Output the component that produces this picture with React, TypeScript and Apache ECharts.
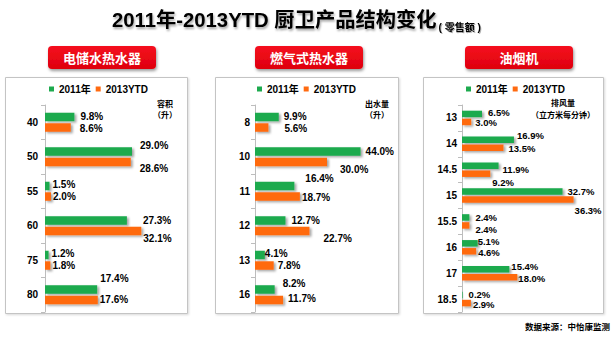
import React, { useEffect, useRef } from "react";
import * as echarts from "echarts";

// ---------- data ----------
const seriesNames = ["2011年", "2013YTD"];

const waterHeaterSizes = ["40", "50", "55", "60", "75", "80"];
const waterHeater2011 = [9.8, 29.0, 1.5, 27.3, 1.2, 17.4];
const waterHeater2013 = [8.6, 28.6, 2.0, 32.1, 1.8, 17.6];

const gasHeaterSizes = ["8", "10", "11", "12", "13", "16"];
const gasHeater2011 = [9.9, 44.0, 16.4, 12.7, 4.1, 8.2];
const gasHeater2013 = [5.6, 30.0, 18.7, 22.7, 7.8, 11.7];

const hoodSizes = ["13", "14", "14.5", "15", "15.5", "16", "17", "18.5"];
const hood2011 = [6.5, 16.9, 11.9, 32.7, 2.4, 5.1, 15.4, 0.2];
const hood2013 = [3.0, 13.5, 9.2, 36.3, 2.4, 4.6, 18.0, 2.9];

// ---------- label layout nudges (dx, dy), as in the original slide ----------
const waterShift2011 = [[3, 0], [5, -6], [0, -1], [13, 0], [0, -1], [0, -11]];
const waterShift2013 = [[6, 1], [6, 6], [-1, 0], [-1, 7], [-1, 0], [-1, -1]];
const gasShift2011 = [[2, 0], [2, 0], [8, -7], [3, 0], [-3, -1], [5, -6]];
const gasShift2013 = [[13, 1], [10, 7], [-1, 1], [11, 7], [1, 0], [2, -2]];
const hoodShift2011 = [[3, -1], [0, -4], [1, 4], [2, 0], [3, 0], [-3, -2], [-1, -3], [3, -1]];
const hoodShift2013 = [[1, 1], [2, 1], [-1, 9], [-2, 11], [3, 4], [-1, 1], [-2, 1], [-1, 1]];

const GREEN = "#1DAA4E";
const ORANGE = "#FF6A10";
const FONT = "'Liberation Sans', 'Noto Sans CJK SC', sans-serif";
const CJK = "'Noto Sans CJK SC', sans-serif";

type PanelCfg = {
  cats: string[];
  a: number[];
  b: number[];
  sa: number[][];
  sb: number[][];
  left: number;
  width: number;
  max: number;
  barWidth: number;
  barGap: string;
  labelMargin: number;
  valueFont: number;
};

const panels: PanelCfg[] = [
  { cats: waterHeaterSizes, a: waterHeater2011, b: waterHeater2013, sa: waterShift2011, sb: waterShift2013,
    left: 45, width: 135, max: 45, barWidth: 8.5, barGap: "24%", labelMargin: 7, valueFont: 10 },
  { cats: gasHeaterSizes, a: gasHeater2011, b: gasHeater2013, sa: gasShift2011, sb: gasShift2013,
    left: 255, width: 120, max: 50, barWidth: 8.5, barGap: "24%", labelMargin: 5, valueFont: 10 },
  { cats: hoodSizes, a: hood2011, b: hood2013, sa: hoodShift2011, sb: hoodShift2013,
    left: 462, width: 123, max: 40, barWidth: 6.5, barGap: "23%", labelMargin: 5, valueFont: 9.5 },
];

const panelBoxes = [
  { x: 5, w: 182, title: "电储水热水器", bx: 48, unit: ["容积", "（升）"], ux: 165, uy: 103 },
  { x: 215, w: 183, title: "燃气式热水器", bx: 255, unit: ["出水量", "（升）"], ux: 377, uy: 103 },
  { x: 423, w: 180, title: "油烟机", bx: 465, unit: ["排风量", "（立方米每分钟）"], ux: 563, uy: 102 },
];
const legendLefts = [49, 257, 466];

export default function App() {
  const ref = useRef<HTMLDivElement>(null);

  useEffect(() => {
    if (!ref.current) return;
    const chart = echarts.init(ref.current, undefined, { renderer: "svg" });

    const grids: any[] = [];
    const xAxes: any[] = [];
    const yAxes: any[] = [];
    const series: any[] = [];
    const legends: any[] = [];

    panels.forEach((p, i) => {
      grids.push({ left: p.left, top: 105, width: p.width, height: 207, outerBoundsMode: "none" });
      xAxes.push({ type: "value", gridIndex: i, min: 0, max: p.max, show: false });
      yAxes.push({
        type: "category",
        gridIndex: i,
        data: p.cats,
        inverse: true,
        axisLine: { show: true, lineStyle: { color: "#bdbdbd", width: 1 } },
        axisTick: { show: true, length: 4, lineStyle: { color: "#bdbdbd" } },
        axisLabel: { margin: p.labelMargin, color: "#000", fontSize: 10, fontWeight: "bold", fontFamily: FONT },
        splitLine: { show: false },
      });
      const mk = (vals: number[], shifts: number[][]) =>
        vals.map((v, k) => ({ value: v, label: { offset: shifts[k] } }));
      [
        { name: seriesNames[0], vals: p.a, sh: p.sa, color: GREEN },
        { name: seriesNames[1], vals: p.b, sh: p.sb, color: ORANGE },
      ].forEach((s) => {
        series.push({
          type: "bar",
          name: s.name,
          xAxisIndex: i,
          yAxisIndex: i,
          barWidth: p.barWidth,
          barGap: p.barGap,
          data: mk(s.vals, s.sh),
          itemStyle: {
            color: s.color,
            shadowColor: "rgba(0,0,0,0.35)",
            shadowBlur: 2,
            shadowOffsetX: 2,
            shadowOffsetY: 1.5,
          },
          label: {
            show: true,
            position: "right",
            distance: 3,
            color: "#000",
            fontSize: p.valueFont,
            lineHeight: p.valueFont,
            fontWeight: "bold",
            fontFamily: FONT,
            formatter: (d: any) => Number(d.value).toFixed(1) + "%",
          },
        });
      });
      legends.push({
        data: [
          { name: seriesNames[0], itemStyle: { color: GREEN } },
          { name: seriesNames[1], itemStyle: { color: ORANGE } },
        ],
        left: legendLefts[i],
        top: 84,
        icon: "rect",
        itemWidth: 5,
        itemHeight: 5,
        itemGap: 5,
        padding: 0,
        textStyle: { fontSize: 10, fontWeight: "bold", color: "#000", fontFamily: FONT },
      });
    });

    const graphics: any[] = [];
    // main title
    graphics.push({
      type: "text",
      x: 112,
      y: 20,
      z: 100,
      style: {
        text: "{a|2011年-2013YTD 厨卫产品结构变化}{b|( 零售额 )}",
        verticalAlign: "middle",
        rich: {
          a: {
            fontSize: 20.3, fontWeight: "bold", fill: "#000", fontFamily: FONT, lineHeight: 24,
            textShadowColor: "rgba(0,0,0,0.35)", textShadowBlur: 2, textShadowOffsetX: 1, textShadowOffsetY: 2,
          },
          b: {
            fontSize: 10, fontWeight: "bold", fill: "#000", fontFamily: FONT, lineHeight: 18,
            verticalAlign: "bottom", padding: [0, 0, 0, 2],
            textShadowColor: "rgba(0,0,0,0.3)", textShadowBlur: 1, textShadowOffsetX: 1, textShadowOffsetY: 1,
          },
        },
      },
    });

    panelBoxes.forEach((b) => {
      graphics.push({
        type: "rect",
        z: -10,
        shape: { x: b.x + 0.5, y: 77.5, width: b.w, height: 236 },
        style: {
          fill: "#fff",
          stroke: "#c4c4c4",
          lineWidth: 1,
          shadowColor: "rgba(0,0,0,0.15)",
          shadowBlur: 2,
          shadowOffsetX: 1,
          shadowOffsetY: 1,
        },
      });
      graphics.push({
        type: "rect",
        z: 100,
        shape: { x: b.bx, y: 46, width: 108, height: 23, r: 4 },
        style: {
          fill: new echarts.graphic.LinearGradient(0, 0, 0, 1, [
            { offset: 0, color: "#F5101E" },
            { offset: 1, color: "#DE000E" },
          ]),
          shadowColor: "rgba(0,0,0,0.4)",
          shadowBlur: 3,
          shadowOffsetX: 1,
          shadowOffsetY: 2,
        },
      });
      graphics.push({
        type: "text",
        z: 101,
        x: b.bx + 54,
        y: 57.5,
        style: {
          text: b.title,
          fill: "#fff",
          fontSize: 13,
          fontWeight: "bold",
          fontFamily: CJK,
          align: "center",
          verticalAlign: "middle",
        },
      });
      graphics.push({
        type: "text",
        z: 101,
        x: b.ux,
        y: b.uy,
        style: {
          text: b.unit[0],
          fill: "#000",
          fontSize: 8,
          lineHeight: 9,
          fontWeight: "bold",
          fontFamily: CJK,
          align: "center",
          verticalAlign: "middle",
        },
      });
      graphics.push({
        type: "text",
        z: 101,
        x: b.ux,
        y: 114,
        style: {
          text: b.unit[1],
          fill: "#000",
          fontSize: 8,
          lineHeight: 9,
          fontWeight: "bold",
          fontFamily: CJK,
          align: "center",
          verticalAlign: "middle",
        },
      });
    });

    graphics.push({
      type: "text",
      z: 101,
      x: 610,
      y: 326,
      style: {
        text: "数据来源：中怡康监测",
        fill: "#000",
        fontSize: 8.5,
        fontWeight: "bold",
        fontFamily: CJK,
        align: "right",
        verticalAlign: "middle",
      },
    });

    chart.setOption({
      animation: false,
      backgroundColor: "#fff",
      grid: grids,
      xAxis: xAxes,
      yAxis: yAxes,
      legend: legends,
      series,
      graphic: { elements: graphics },
    });

    return () => chart.dispose();
  }, []);

  return (
    <div
      ref={ref}
      style={{ position: "fixed", left: 0, top: 0, width: 615, height: 337 }}
    />
  );
}
